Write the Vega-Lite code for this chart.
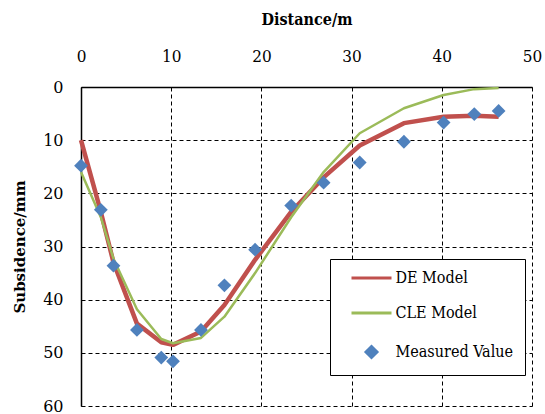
{
  "$schema": "https://vega.github.io/schema/vega-lite/v6.json",
  "width": 451,
  "height": 319,
  "autosize": {"type": "none"},
  "padding": {"left": 81, "top": 87, "right": 13, "bottom": 8},
  "background": "white",
  "view": {"stroke": null},
  "data": {
    "values": [
      {"series": "DE Model", "x": 0, "y": 10},
      {"series": "DE Model", "x": 2.2, "y": 23.5},
      {"series": "DE Model", "x": 3.6, "y": 33},
      {"series": "DE Model", "x": 6.2, "y": 44.5},
      {"series": "DE Model", "x": 8.9, "y": 48},
      {"series": "DE Model", "x": 10.2, "y": 48.5},
      {"series": "DE Model", "x": 13.3, "y": 46},
      {"series": "DE Model", "x": 15.9, "y": 41},
      {"series": "DE Model", "x": 19.3, "y": 32.5},
      {"series": "DE Model", "x": 23.3, "y": 23.5},
      {"series": "DE Model", "x": 26.9, "y": 17},
      {"series": "DE Model", "x": 30.9, "y": 11},
      {"series": "DE Model", "x": 35.8, "y": 6.8},
      {"series": "DE Model", "x": 40.2, "y": 5.6},
      {"series": "DE Model", "x": 43.6, "y": 5.4},
      {"series": "DE Model", "x": 46.3, "y": 5.6},
      {"series": "CLE Model", "x": 0, "y": 16},
      {"series": "CLE Model", "x": 2.2, "y": 24.5},
      {"series": "CLE Model", "x": 3.6, "y": 32.3},
      {"series": "CLE Model", "x": 6.2, "y": 41.8},
      {"series": "CLE Model", "x": 8.9, "y": 47.4},
      {"series": "CLE Model", "x": 10.2, "y": 48.2},
      {"series": "CLE Model", "x": 13.3, "y": 47.2},
      {"series": "CLE Model", "x": 15.9, "y": 43.2},
      {"series": "CLE Model", "x": 19.3, "y": 35},
      {"series": "CLE Model", "x": 23.3, "y": 24.5},
      {"series": "CLE Model", "x": 26.9, "y": 16},
      {"series": "CLE Model", "x": 30.9, "y": 8.7},
      {"series": "CLE Model", "x": 35.8, "y": 4},
      {"series": "CLE Model", "x": 40.2, "y": 1.5},
      {"series": "CLE Model", "x": 43.6, "y": 0.4},
      {"series": "CLE Model", "x": 46.3, "y": 0.2},
      {"series": "Measured Value", "x": 0, "y": 14.8},
      {"series": "Measured Value", "x": 2.2, "y": 23.1},
      {"series": "Measured Value", "x": 3.6, "y": 33.6},
      {"series": "Measured Value", "x": 6.2, "y": 45.7},
      {"series": "Measured Value", "x": 8.9, "y": 50.9},
      {"series": "Measured Value", "x": 10.2, "y": 51.6},
      {"series": "Measured Value", "x": 13.3, "y": 45.7},
      {"series": "Measured Value", "x": 15.9, "y": 37.3},
      {"series": "Measured Value", "x": 19.3, "y": 30.6},
      {"series": "Measured Value", "x": 23.3, "y": 22.3},
      {"series": "Measured Value", "x": 26.9, "y": 18.0},
      {"series": "Measured Value", "x": 30.9, "y": 14.2},
      {"series": "Measured Value", "x": 35.8, "y": 10.3},
      {"series": "Measured Value", "x": 40.2, "y": 6.7},
      {"series": "Measured Value", "x": 43.6, "y": 5.1},
      {"series": "Measured Value", "x": 46.3, "y": 4.5}
    ]
  },
  "encoding": {
    "x": {
      "field": "x", "type": "quantitative",
      "scale": {"domain": [0, 50], "nice": false, "zero": false},
      "axis": {
        "orient": "top", "title": "Distance/m", "values": [0, 10, 20, 30, 40, 50],
        "titleFont": "DejaVu Serif Condensed", "labelFont": "DejaVu Serif Condensed", "labelColor": "black", "titleColor": "black",
        "titleFontSize": 16, "titleFontWeight": "bold", "titlePadding": 20,
        "labelFontSize": 17, "labelFontWeight": "normal", "labelPadding": 22, "labelFlush": false, "labelOverlap": false,
        "ticks": false, "domainColor": "black", "domainWidth": 1.5,
        "grid": true, "gridColor": "black", "gridDash": [4, 3], "gridWidth": 1, "gridOpacity": 1
      }
    },
    "y": {
      "field": "y", "type": "quantitative",
      "scale": {"domain": [0, 60], "nice": false, "reverse": true},
      "axis": {
        "title": "Subsidence/mm", "values": [0, 10, 20, 30, 40, 50, 60],
        "titleFont": "DejaVu Serif", "labelFont": "DejaVu Serif", "labelColor": "black", "titleColor": "black",
        "titleFontSize": 15, "titleFontWeight": "bold", "titlePadding": 15,
        "labelFontSize": 16, "labelPadding": 18, "labelFlush": false, "labelOverlap": false,
        "ticks": false, "domainColor": "black", "domainWidth": 1.5,
        "grid": true, "gridColor": "black", "gridDash": [4, 3], "gridWidth": 1, "gridOpacity": 1
      }
    },
    "color": {
      "field": "series", "type": "nominal",
      "scale": {"domain": ["DE Model", "CLE Model", "Measured Value"], "range": ["#C0504D", "#9BBB59", "#4F81BD"]},
      "legend": {
        "title": null, "orient": "none", "legendX": 249, "legendY": 172,
        "direction": "vertical",
        "strokeColor": "black", "fillColor": "white", "padding": 11, "cornerRadius": 0,
        "labelFont": "DejaVu Serif Condensed", "labelFontSize": 16, "labelColor": "black",
        "rowPadding": 19, "symbolSize": 100, "symbolStrokeWidth": 3,
        "symbolOffset": 22.5, "labelOffset": 16,
        "labelLimit": 300,
        "encode": {
          "symbols": {
            "update": {
              "shape": {"signal": "datum.value === 'Measured Value' ? 'diamond' : 'M-4,0H4'"},
              "size": {"signal": "datum.value === 'Measured Value' ? 120 : 100"},
              "fill": {"signal": "datum.value === 'Measured Value' ? '#4F81BD' : 'transparent'"},
              "stroke": {"signal": "datum.value === 'Measured Value' ? 'transparent' : (datum.value === 'DE Model' ? '#C0504D' : '#9BBB59')"},
              "strokeWidth": {"value": 3},
              "opacity": {"value": 1}
            }
          }
        }
      }
    }
  },
  "layer": [
    {
      "transform": [{"filter": "datum.series !== 'Measured Value'"}],
      "mark": {"type": "line", "strokeJoin": "round"},
      "encoding": {
        "strokeWidth": {
          "field": "series", "type": "nominal",
          "scale": {"domain": ["DE Model", "CLE Model"], "range": [4.5, 2.5]},
          "legend": null
        },
        "order": {"field": "x", "type": "quantitative"}
      }
    },
    {
      "transform": [{"filter": "datum.series === 'Measured Value'"}],
      "mark": {"type": "point", "shape": "diamond", "filled": true, "size": 190, "opacity": 1}
    }
  ]
}
